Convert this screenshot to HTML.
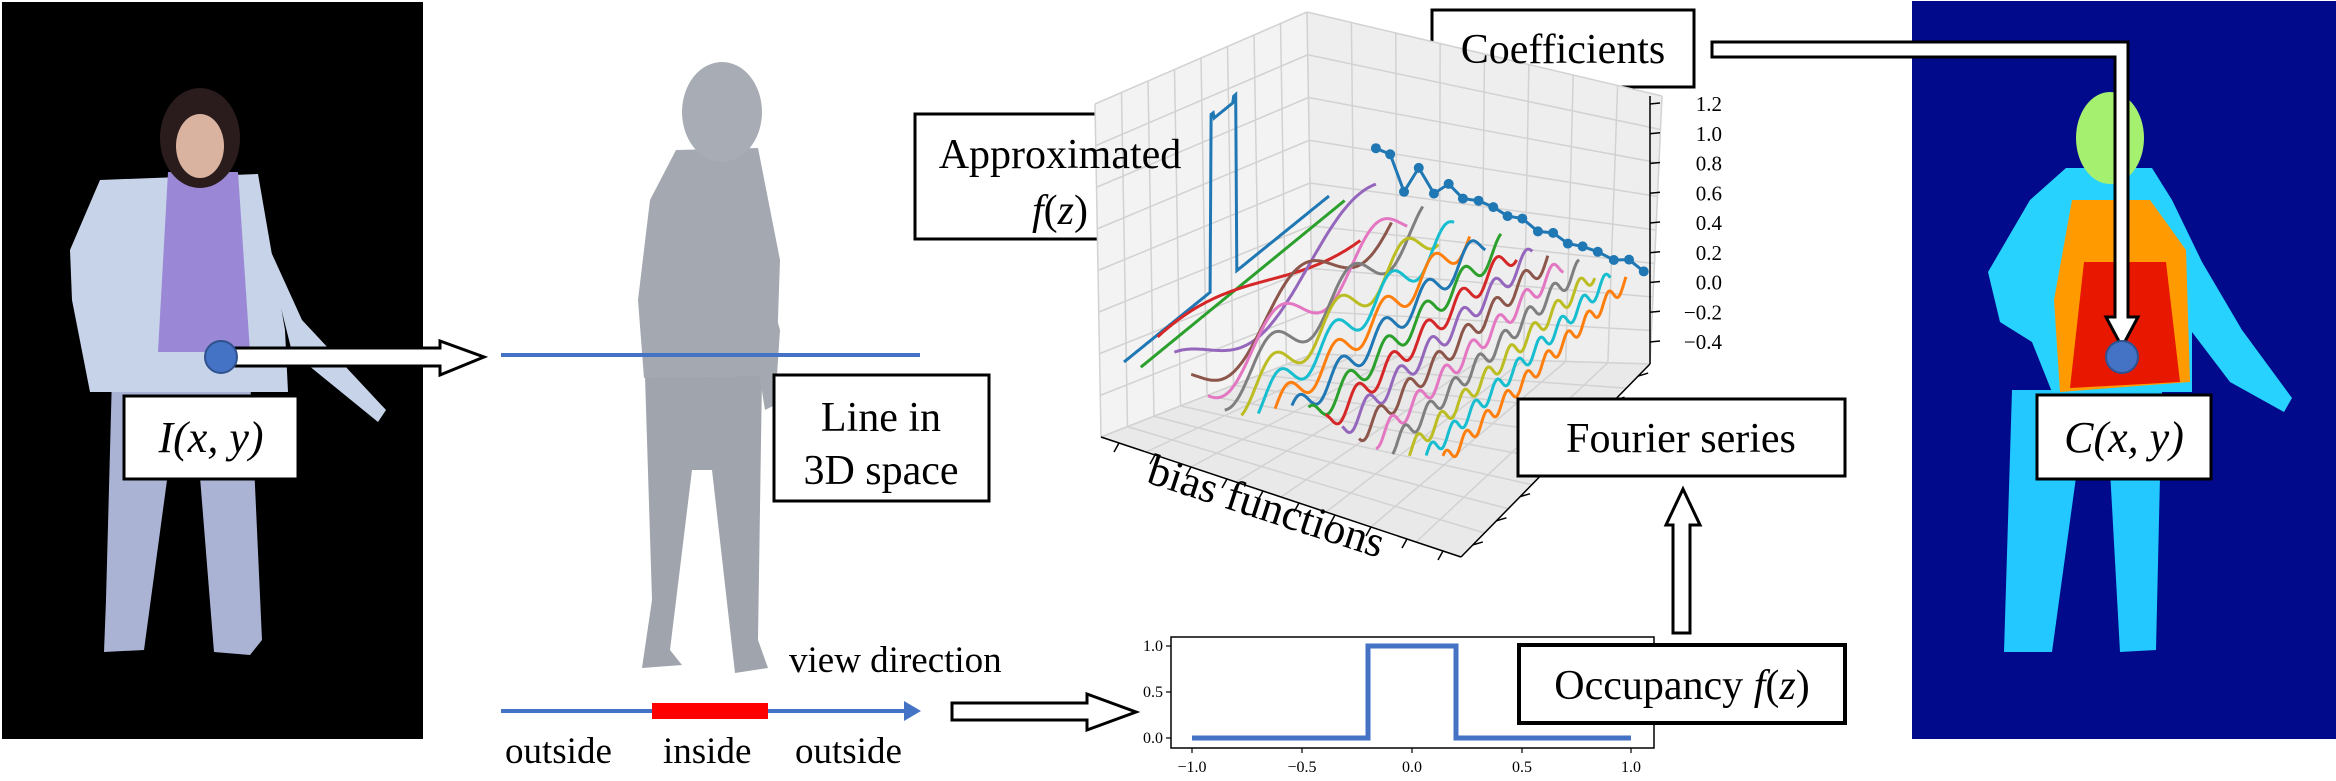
<!DOCTYPE html>
<html><head><meta charset="utf-8"><style>
html,body{margin:0;padding:0;background:#fff;}
svg, svg text{font-family:"Liberation Serif","DejaVu Serif",serif;}
</style></head><body>
<svg id="s" width="2336" height="776" viewBox="0 0 2336 776" xmlns="http://www.w3.org/2000/svg" font-family="Liberation Serif, serif">
<rect width="2336" height="776" fill="#fff"/>
<!-- left photo -->
<rect x="2" y="2" width="421" height="737" fill="#000"/>
<polygon points="112,376 250,376 262,640 250,655 214,652 198,452 170,458 144,650 104,652 106,600" fill="#aab3d4"/>
<polygon points="100,180 258,174 285,330 288,392 90,392 72,300 70,250" fill="#c6d3e8"/>
<polygon points="262,232 302,320 386,410 378,422 292,352" fill="#c6d3e8"/>
<polygon points="168,172 238,172 250,352 158,352" fill="#9a88d6"/>
<ellipse cx="200" cy="138" rx="40" ry="50" fill="#2a1c1c"/>
<ellipse cx="200" cy="146" rx="24" ry="32" fill="#d9b2a0"/>
<!-- statue -->
<polygon points="645,376 762,376 758,640 768,668 735,673 712,470 692,470 670,650 682,665 642,668 652,600" fill="#a0a4ac"/>
<polygon points="676,150 758,148 780,260 776,376 644,378 638,300 650,200" fill="#a4a8b0"/>
<polygon points="760,260 780,330 775,405 765,410 752,330" fill="#a4a8b0"/>
<ellipse cx="722" cy="112" rx="40" ry="50" fill="#a8acb4"/>
<!-- right panel -->
<rect x="1912" y="1" width="424" height="738" fill="#020a8c"/>
<polygon points="2012,390 2162,390 2156,650 2120,652 2110,470 2077,470 2052,652 2004,652" fill="#22c8ff"/>
<polygon points="2066,168 2152,168 2172,200 2202,262 2242,330 2292,398 2284,412 2230,382 2192,332 2192,392 2052,392 2032,342 2000,322 1988,272 2030,200" fill="#28d2ff"/>
<ellipse cx="2110" cy="138" rx="34" ry="46" fill="#a6f070"/>
<polygon points="2072,200 2150,200 2186,250 2190,382 2060,392 2054,300" fill="#ff9a00"/>
<polygon points="2084,262 2166,262 2180,382 2070,388" fill="#e81800"/>
<!-- boxes -->
<g fill="#fff" stroke="#000" stroke-width="3">
<rect x="124" y="396" width="174" height="83"/>
<rect x="774" y="375" width="215" height="126"/>
<rect x="915" y="114" width="291" height="125"/>
<rect x="1432" y="10" width="262" height="77"/>
<rect x="2037" y="395" width="174" height="84"/>
</g>
<!-- 3D plot -->
<g id="p3"></g>
<g fill="#fff" stroke="#000" stroke-width="3">
<rect x="1518" y="399" width="327" height="77"/>
</g>
<!-- arrows -->
<g fill="#fff" stroke="#000" stroke-width="3" stroke-linejoin="miter">
<polygon points="225,348 440,348 440,341 484,357 440,375 440,366 225,366"/>
<polygon points="952,703 1087,703 1087,694 1136,712 1087,730 1087,720 952,720"/>
<polygon points="1673,633 1673,525 1666,525 1683,489 1700,525 1690,525 1690,633"/>
<polygon points="1712,42 2128,42 2128,317 2138,317 2122,347 2106,317 2115,317 2115,57 1712,57"/>
</g>
<circle cx="221" cy="357" r="16" fill="#4472c4" stroke="#2f528f" stroke-width="2"/>
<circle cx="2122" cy="357" r="16" fill="#4472c4" stroke="#2f528f" stroke-width="2"/>
<line x1="501" y1="355" x2="920" y2="355" stroke="#4472c4" stroke-width="4"/>
<line x1="501" y1="711" x2="906" y2="711" stroke="#4472c4" stroke-width="4"/>
<polygon points="904,701 921,711 904,721" fill="#4472c4"/>
<rect x="652" y="703" width="116" height="16" fill="#f00"/>
<!-- small plot -->
<rect x="1171" y="637" width="483" height="111" fill="#fff" stroke="#000" stroke-width="1.5"/>
<polyline points="1192,738 1368,738 1368,646 1456,646 1456,738 1631,738" fill="none" stroke="#4472c4" stroke-width="5"/>
<g stroke="#000" stroke-width="1.2">
<line x1="1166" y1="646" x2="1171" y2="646"/><line x1="1166" y1="692" x2="1171" y2="692"/><line x1="1166" y1="738" x2="1171" y2="738"/>
<line x1="1192" y1="748" x2="1192" y2="753"/><line x1="1302" y1="748" x2="1302" y2="753"/><line x1="1412" y1="748" x2="1412" y2="753"/><line x1="1522" y1="748" x2="1522" y2="753"/><line x1="1631" y1="748" x2="1631" y2="753"/>
</g>
<g font-size="16" fill="#000" font-family="Liberation Serif, serif">
<text x="1163" y="651" text-anchor="end">1.0</text><text x="1163" y="697" text-anchor="end">0.5</text><text x="1163" y="743" text-anchor="end">0.0</text>
<text x="1192" y="772" text-anchor="middle">−1.0</text><text x="1302" y="772" text-anchor="middle">−0.5</text><text x="1412" y="772" text-anchor="middle">0.0</text><text x="1522" y="772" text-anchor="middle">0.5</text><text x="1631" y="772" text-anchor="middle">1.0</text>
</g>
<rect x="1519" y="645" width="326" height="78" fill="#fff" stroke="#000" stroke-width="4"/>
<!-- texts -->
<g font-size="42" fill="#000" text-anchor="middle" font-family="Liberation Serif, serif">
<text x="211" y="452" font-style="italic" font-size="44">I(x, y)</text>
<text x="881" y="431">Line in</text>
<text x="881" y="484">3D space</text>
<text x="1060" y="168">Approximated</text>
<text x="1060" y="224"><tspan font-style="italic">f</tspan>(<tspan font-style="italic">z</tspan>)</text>
<text x="1563" y="63">Coefficients</text>
<text x="1681" y="452">Fourier series</text>
<text x="1682" y="699">Occupancy <tspan font-style="italic">f</tspan>(<tspan font-style="italic">z</tspan>)</text>
<text x="2124" y="452" font-style="italic" font-size="44">C(x, y)</text>
</g>
<g font-size="37" fill="#000" font-family="Liberation Serif, serif">
<text x="789" y="672">view direction</text>
<text x="505" y="763">outside</text>
<text x="663" y="763">inside</text>
<text x="795" y="763">outside</text>
</g>
<text x="0" y="0" font-size="44" text-anchor="middle" font-family="Liberation Serif, serif" transform="translate(1262,520) rotate(18)">bias functions</text>
</svg>
<script>
var NS="http://www.w3.org/2000/svg",g=document.getElementById("p3");
function el(n,a){var e=document.createElementNS(NS,n);for(var k in a)e.setAttribute(k,a[k]);g.appendChild(e);return e;}
function lerp(a,b,t){return [a[0]+(b[0]-a[0])*t,a[1]+(b[1]-a[1])*t];}
function quad(c,u,v){var p=lerp(c[0],c[1],u),q=lerp(c[3],c[2],u);return lerp(p,q,v);}
var B=[1313,354],L=[1101,437],F=[1461,557],R=[1650,364],TL=[1095,104],TB=[1307,12],TR=[1662,96];
function pane(c,fill){el("polygon",{points:c.map(function(p){return p.join(",")}).join(" "),fill:fill,stroke:"none"});
 for(var i=0;i<=8;i++){var t=i/8;var a=quad(c,t,0),b=quad(c,t,1);el("line",{x1:a[0],y1:a[1],x2:b[0],y2:b[1],stroke:"#d2d2d2","stroke-width":1.5});
 a=quad(c,0,t);b=quad(c,1,t);el("line",{x1:a[0],y1:a[1],x2:b[0],y2:b[1],stroke:"#d2d2d2","stroke-width":1.5});}}
pane([B,L,TL,TB],"#f3f3f3");
pane([B,R,TR,TB],"#eeeeee");
pane([B,L,F,R],"#e9e9e9");
el("line",{x1:L[0],y1:L[1],x2:F[0],y2:F[1],stroke:"#000","stroke-width":1.5});
el("line",{x1:F[0],y1:F[1],x2:R[0],y2:R[1],stroke:"#000","stroke-width":1.5});
for(var i=0;i<=9;i++){var p=lerp(L,F,(i+0.5)/10);el("line",{x1:p[0],y1:p[1],x2:p[0]-5,y2:p[1]+9,stroke:"#000","stroke-width":1.5});}
for(var i=0;i<=7;i++){var p=lerp(F,R,(i+0.5)/8);el("line",{x1:p[0],y1:p[1],x2:p[0]+10,y2:p[1]-3,stroke:"#000","stroke-width":1.5});}
var zl=["1.2","1.0","0.8","0.6","0.4","0.2","0.0","−0.2","−0.4"];
for(var j=0;j<9;j++){var y=104+j*29.75;el("line",{x1:1650,y1:y,x2:1660,y2:y-1,stroke:"#000","stroke-width":1.5});
 var t=el("text",{x:1722,y:y+7,"font-size":21,"text-anchor":"end",fill:"#000","font-family":"Liberation Serif, serif"});t.textContent=zl[j];}
el("line",{x1:1650,y1:96,x2:1650,y2:364,stroke:"#000","stroke-width":1.5});
var cols=["#ff7f0e","#1f77b4","#2ca02c","#d62728","#9467bd","#8c564b","#e377c2","#7f7f7f","#bcbd22","#17becf"];
for(var i=0;i<20;i++){
 var s=i/19,P0=[1124+319*s,362+99*s],P1=[1329+297*s,196+86*s],pts=[];
 var A=60/(1+0.22*Math.max(0,i-2)),cyc=(i-1)/2;
 for(var n=0;n<=200;n++){var t=n/200,p=lerp(P0,P1,t),off=0;
  if(i==0){off=(t>0.42&&t<0.55)?171+(t<0.44||t>0.53?6:0):0;}
  else if(i>1){off=A*Math.sin(2*Math.PI*cyc*t+ i*0.7)*0.6;}
  pts.push(p[0].toFixed(1)+","+(p[1]-off).toFixed(1));}
 el("polyline",{points:pts.join(" "),fill:"none",stroke:cols[(i+1)%10],"stroke-width":3});
}
var d=[[730,415],[762,432],[793,537],[826,470],[860,542],[893,515],[925,556],[960,562],[993,580],[1025,605],[1058,612],[1093,648],[1127,652],[1160,682],[1193,690],[1227,705],[1263,728],[1297,727],[1330,760]];
var pp=d.map(function(p){return [1050+p[0]/2.24,p[1]/2.8];});
el("polyline",{points:pp.map(function(p){return p.join(",")}).join(" "),fill:"none",stroke:"#1f77b4","stroke-width":3});
pp.forEach(function(p){el("circle",{cx:p[0],cy:p[1],r:5,fill:"#1f77b4"});});
</script>
</body></html>
